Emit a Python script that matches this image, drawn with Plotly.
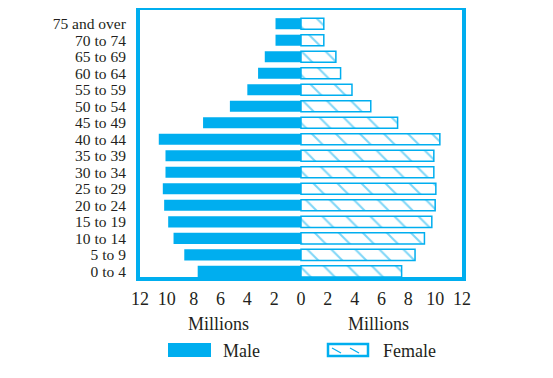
import plotly.graph_objects as go

age_groups = ["0 to 4", "5 to 9", "10 to 14", "15 to 19", "20 to 24", "25 to 29",
              "30 to 34", "35 to 39", "40 to 44", "45 to 49", "50 to 54", "55 to 59",
              "60 to 64", "65 to 69", "70 to 74", "75 and over"]
male = [7.7, 8.7, 9.5, 9.9, 10.2, 10.3, 10.1, 10.1, 10.6, 7.3, 5.3, 4.0, 3.2, 2.7, 1.9, 1.9]
female = [7.5, 8.5, 9.2, 9.75, 10.0, 10.05, 9.9, 9.9, 10.35, 7.2, 5.2, 3.8, 2.95, 2.6, 1.7, 1.7]
tick_vals = [-12, -10, -8, -6, -4, -2, 0, 2, 4, 6, 8, 10, 12]
tick_text = [str(abs(v)) for v in tick_vals]

BLUE = "#00AEEF"
TXT = "#231f20"
SERIF = "Liberation Serif, Times New Roman, serif"

OFF = 8  # page body margin offset
W, H = 553 - OFF, 378 - OFF
L, R, T, B = 140 - OFF, 462 - OFF, 10 - OFF, 277 - OFF

def px(x):
    return (x - OFF - L) / (R - L)

def py(y):
    return (B - (y - OFF)) / (B - T)

fig = go.Figure()
fig.add_trace(go.Bar(
    y=age_groups, x=[-v for v in male], orientation="h", name="Male",
    marker=dict(color=BLUE, line=dict(width=0)), showlegend=False,
))
fig.add_trace(go.Bar(
    y=age_groups, x=female, orientation="h", name="Female",
    marker=dict(color="white", line=dict(color=BLUE, width=1.5),
                pattern=dict(shape="\\", fgcolor=BLUE, bgcolor="white", size=17, solidity=0.12)),
    showlegend=False,
))

shapes = [
    dict(type="rect", xref="paper", yref="paper",
         x0=px(138), x1=px(464), y0=py(279), y1=py(8),
         line=dict(color=BLUE, width=4), fillcolor="rgba(0,0,0,0)"),
    dict(type="rect", xref="paper", yref="paper",
         x0=px(168), x1=px(211), y0=py(357), y1=py(343),
         line=dict(width=0), fillcolor=BLUE),
    dict(type="rect", xref="paper", yref="paper",
         x0=px(328), x1=px(368), y0=py(356), y1=py(344),
         line=dict(color=BLUE, width=2.5), fillcolor="white"),
    dict(type="line", xref="paper", yref="paper",
         x0=px(332), x1=px(341), y0=py(348), y1=py(353),
         line=dict(color=BLUE, width=1.2)),
    dict(type="line", xref="paper", yref="paper",
         x0=px(350), x1=px(359), y0=py(348), y1=py(353),
         line=dict(color=BLUE, width=1.2)),
]

def note(text, x, y, xanchor="center"):
    return dict(text=text, x=px(x), y=py(y), xref="paper", yref="paper",
                xanchor=xanchor, yanchor="middle", showarrow=False,
                font=dict(family=SERIF, size=18, color=TXT))

annotations = [
    note("Millions", 218, 324),
    note("Millions", 378, 324),
    note("Male", 221, 351, "left"),
    note("Female", 381, 351, "left"),
]

fig.update_layout(
    width=W, height=H,
    margin=dict(l=L, r=W - R, t=T, b=H - B, pad=0),
    paper_bgcolor="white", plot_bgcolor="white",
    barmode="overlay", bargap=0.33,
    shapes=shapes, annotations=annotations,
    xaxis=dict(range=[-12, 12], tickmode="array", tickvals=tick_vals, ticktext=tick_text,
               showgrid=False, zeroline=False, showline=False,
               ticks="outside", ticklen=5, tickcolor="rgba(0,0,0,0)",
               tickfont=dict(family=SERIF, size=18, color=TXT), fixedrange=True,
               automargin=False),
    yaxis=dict(categoryorder="array", categoryarray=age_groups,
               tickmode="array", tickvals=age_groups, ticktext=age_groups,
               range=[-0.34, 15.83],
               showgrid=False, zeroline=False, showline=False,
               ticks="outside", ticklen=10, tickcolor="rgba(0,0,0,0)",
               tickfont=dict(family=SERIF, size=15.5, color=TXT), fixedrange=True,
               automargin=False),
    font=dict(family=SERIF, color=TXT),
)

fig.write_html("out.html")
